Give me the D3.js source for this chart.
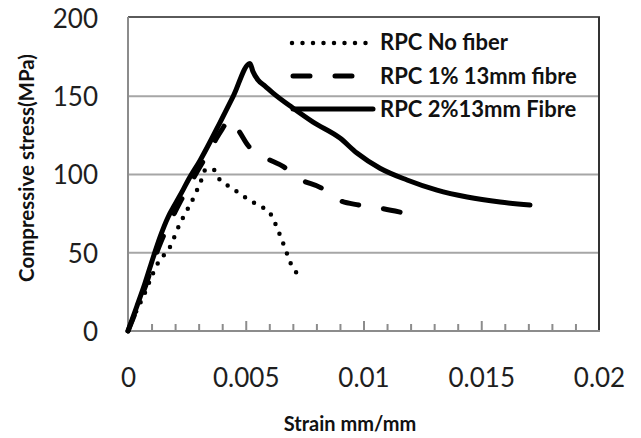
<!DOCTYPE html>
<html>
<head>
<meta charset="utf-8">
<script src="https://cdn.jsdelivr.net/npm/d3@7"></script>
<style>
  html, body { margin: 0; padding: 0; background: #fff; }
  svg { display: block; font-family: Lato, "Open Sans", sans-serif; }
</style>
</head>
<body>
<svg id="chart" width="641" height="438"></svg>
<script>
// Stress-strain curves of reactive powder concrete (RPC) specimens
const seriesNames = ["RPC No fiber", "RPC 1% 13mm fibre", "RPC 2%13mm Fibre"];

const noFiberStrain = [0, 0.00044, 0.00065, 0.001, 0.00122, 0.0015, 0.00181, 0.002, 0.00221, 0.00245,
  0.00268, 0.00289, 0.0031, 0.00331, 0.00362, 0.0039, 0.00433, 0.00478, 0.00518, 0.00568,
  0.00606, 0.00628, 0.00648, 0.00667, 0.00684, 0.00705, 0.00752];
const noFiberStress = [0, 15.5, 22, 34.7, 42, 48, 54.5, 61.3, 68.8, 75.6,
  82, 88.6, 96, 103.5, 103.3, 96.5, 92.2, 87.5, 83.3, 79.4,
  74.6, 67.7, 60.3, 52.8, 45.8, 39, 34.7];

const fibre1Strain = [0, 0.0004, 0.00075, 0.0011, 0.0014, 0.0018, 0.0022, 0.0026, 0.0031, 0.0036,
  0.004, 0.0043, 0.0047, 0.0051, 0.0058, 0.0066, 0.0073, 0.0082, 0.0089, 0.0098,
  0.0107, 0.0117];
const fibre1Stress = [0, 15, 29, 45, 57, 70, 82, 93, 106, 119,
  129, 135, 128, 118.5, 111, 105, 97, 91.5, 84, 80.5,
  78.5, 75.5];

const fibre2Strain = [0, 0.00037, 0.00072, 0.00108, 0.00136, 0.00171, 0.002, 0.00235, 0.00256, 0.00306,
  0.0039, 0.00446, 0.00518, 0.0053, 0.00552, 0.00582, 0.00616, 0.007, 0.00786, 0.009,
  0.00972, 0.0107, 0.01185, 0.01312, 0.0144, 0.0158, 0.01707];
const fibre2Stress = [0, 15.5, 30.5, 47.5, 60, 73, 81, 90.5, 96.5, 109,
  133, 149.7, 171, 166, 160.4, 156.5, 152, 142.5, 133.5, 123.3,
  113.7, 104, 96.5, 90, 85.6, 82.4, 80.5];

const xTickLabels = [0, 0.005, 0.01, 0.015, 0.02];
const yTickLabels = [0, 50, 100, 150, 200];

const svg = d3.select("#chart");
const plotLeft = 128, plotRight = 599, plotTop = 18, plotBottom = 331;

const x = d3.scaleLinear().domain([0, 0.02]).range([plotLeft, plotRight]);
const y = d3.scaleLinear().domain([0, 200]).range([plotBottom, plotTop]);

// horizontal gridlines
svg.append("g")
  .selectAll("line")
  .data([50, 100, 150])
  .join("line")
  .attr("x1", plotLeft).attr("x2", plotRight)
  .attr("y1", d => y(d)).attr("y2", d => y(d))
  .attr("stroke", "#a6a6a6").attr("stroke-width", 2);

// frame: top and right are dark, left and bottom axes are grey
svg.append("line").attr("x1", plotLeft).attr("x2", plotRight + 1).attr("y1", plotTop - 1).attr("y2", plotTop - 1)
  .attr("stroke", "#5a5a5a").attr("stroke-width", 2);
svg.append("line").attr("x1", plotRight).attr("x2", plotRight).attr("y1", plotTop - 1).attr("y2", plotBottom)
  .attr("stroke", "#333").attr("stroke-width", 2);
svg.append("line").attr("x1", plotLeft).attr("x2", plotLeft).attr("y1", plotTop - 1).attr("y2", plotBottom)
  .attr("stroke", "#8c8c8c").attr("stroke-width", 2);

// x axis: minor ticks every 0.001, longer ones every 0.005, pointing into the plot
const minorTicks = d3.range(1, 20).map(i => i * 0.001).filter((d, i) => (i + 1) % 5 !== 0);
const majorTicks = [0.005, 0.01, 0.015];

const gMinor = svg.append("g").attr("transform", `translate(0,${plotBottom})`)
  .call(d3.axisBottom(x).tickValues(minorTicks).tickSize(-7).tickFormat(""));
const gMajor = svg.append("g").attr("transform", `translate(0,${plotBottom})`)
  .call(d3.axisBottom(x).tickValues(majorTicks).tickSize(-10).tickFormat(""));
[gMinor, gMajor].forEach(g => {
  g.select(".domain").remove();
  g.selectAll(".tick line").attr("stroke", "#8c8c8c").attr("stroke-width", 2);
});
svg.append("line").attr("x1", plotLeft - 1).attr("x2", plotRight + 1).attr("y1", plotBottom).attr("y2", plotBottom)
  .attr("stroke", "#8c8c8c").attr("stroke-width", 2);

// x tick labels
const gxLab = svg.append("g").attr("transform", `translate(0,${plotBottom})`)
  .call(d3.axisBottom(x).tickValues(xTickLabels).tickSize(0).tickFormat(d => String(d)));
gxLab.select(".domain").remove();
gxLab.selectAll("text")
  .attr("y", 56).attr("dy", 0)
  .attr("font-family", "Lato, sans-serif")
  .attr("font-size", 26).attr("fill", "#1e1e1e");

// y tick labels
const gyLab = svg.append("g").attr("transform", `translate(${plotLeft},0)`)
  .call(d3.axisLeft(y).tickValues(yTickLabels).tickSize(0).tickPadding(30));
gyLab.select(".domain").remove();
gyLab.selectAll("text")
  .attr("dy", "0.36em")
  .attr("font-family", "Lato, sans-serif")
  .attr("font-size", 26).attr("fill", "#1e1e1e");

// axis titles
svg.append("text")
  .attr("x", 350).attr("y", 431)
  .attr("text-anchor", "middle")
  .attr("font-weight", "bold").attr("font-size", 20).attr("fill", "#111")
  .text("Strain mm/mm");
svg.append("text")
  .attr("transform", "translate(34,168) rotate(-90)")
  .attr("text-anchor", "middle")
  .attr("font-weight", "bold").attr("font-size", 20.5).attr("fill", "#111")
  .text("Compressive stress(MPa)");

// curves
const styles = [
  { dash: "0,10.5", width: 4.5 },
  { dash: "17,25", width: 5 },
  { dash: null, width: 5 }
];
const series = [
  d3.zip(noFiberStrain, noFiberStress),
  d3.zip(fibre1Strain, fibre1Stress),
  d3.zip(fibre2Strain, fibre2Stress)
];
const line = d3.line().x(d => x(d[0])).y(d => y(d[1])).curve(d3.curveMonotoneX);

series.forEach((s, i) => {
  const path = svg.append("path")
    .datum(s)
    .attr("d", line)
    .attr("fill", "none")
    .attr("stroke", "#000")
    .attr("stroke-width", styles[i].width)
    .attr("stroke-linecap", "round")
    .attr("stroke-linejoin", "round")
    .attr("stroke-dasharray", styles[i].dash);
  // space the dots evenly so the dotted curve ends on a dot
  if (i === 0) {
    const len = path.node().getTotalLength();
    const gap = len / Math.round(len / 10.5);
    path.attr("stroke-dasharray", `0,${gap}`);
  }
});

// legend
const legendRows = [
  { x1: 292, x2: 372, y: 43, ty: 50 },
  { x1: 293, x2: 356, y: 76, ty: 83.5 },
  { x1: 293, x2: 373, y: 109, ty: 117 }
];
seriesNames.forEach((name, i) => {
  const r = legendRows[i];
  svg.append("line")
    .attr("x1", r.x1).attr("x2", r.x2).attr("y1", r.y).attr("y2", r.y)
    .attr("stroke", "#000")
    .attr("stroke-width", styles[i].width)
    .attr("stroke-linecap", "round")
    .attr("stroke-dasharray", styles[i].dash);
  svg.append("text")
    .attr("x", 380).attr("y", r.ty)
    .attr("font-weight", "bold").attr("font-size", 22).attr("fill", "#111")
    .text(name);
});
</script>
</body>
</html>
